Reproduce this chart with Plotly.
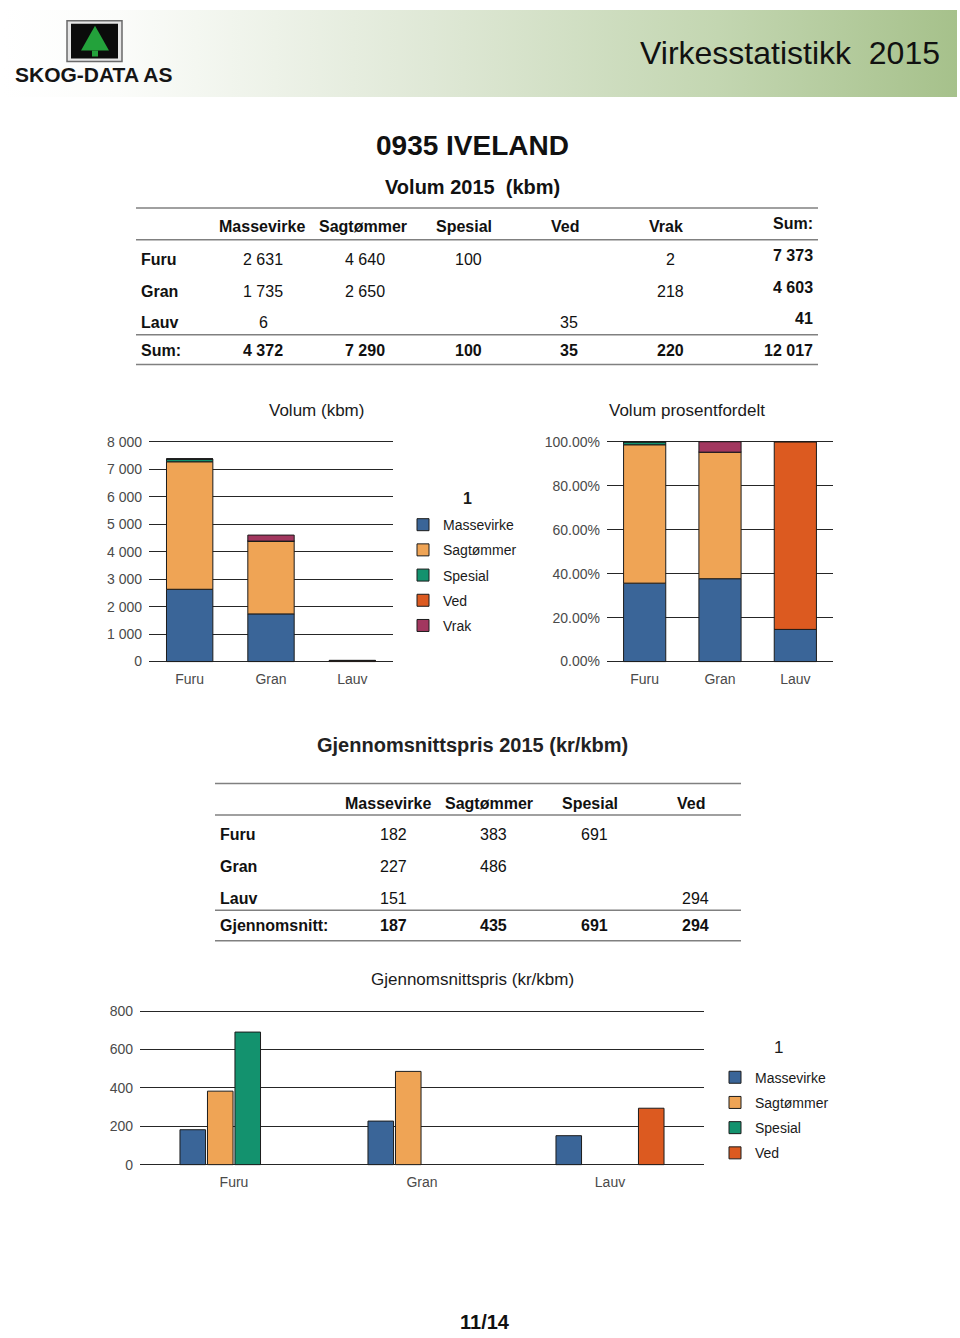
import plotly.graph_objects as go

W, H = 960, 1338
FONT = "Liberation Sans, Arial, sans-serif"

# ---------------- data ----------------
species = ["Furu", "Gran", "Lauv"]
assortments = ["Massevirke", "Sagtømmer", "Spesial", "Ved", "Vrak"]
colors = ["#3a6598", "#efa455", "#13926e", "#dc5a20", "#a2375f"]

vol_massevirke = [2631, 1735, 6]
vol_sagtommer = [4640, 2650, None]
vol_spesial = [100, None, None]
vol_ved = [None, None, 35]
vol_vrak = [2, 218, None]

price_assortments = ["Massevirke", "Sagtømmer", "Spesial", "Ved"]
price_massevirke = [182, 227, 151]
price_sagtommer = [383, 486, None]
price_spesial = [691, None, None]
price_ved = [None, None, 294]
price_average = [187, 435, 691, 294]

vol_ticks = [0, 1000, 2000, 3000, 4000, 5000, 6000, 7000, 8000]
vol_tick_labels = ["0", "1 000", "2 000", "3 000", "4 000", "5 000", "6 000", "7 000", "8 000"]
pct_ticks = [0, 20, 40, 60, 80, 100]
pct_tick_labels = ["0.00%", "20.00%", "40.00%", "60.00%", "80.00%", "100.00%"]
price_ticks = [0, 200, 400, 600, 800]
price_tick_labels = ["0", "200", "400", "600", "800"]

vol_series = [vol_massevirke, vol_sagtommer, vol_spesial, vol_ved, vol_vrak]
price_series = [price_massevirke, price_sagtommer, price_spesial, price_ved]


def n0(v):
    return 0 if v is None else v


def fmt(v):
    return "" if v is None else f"{v:,}".replace(",", " ")


def px(x):
    return x / W


def py(y):
    return 1 - y / H


row_sums = [sum(n0(s[i]) for s in vol_series) for i in range(3)]
col_sums = [sum(n0(v) for v in s) for s in vol_series]
grand_total = sum(row_sums)

fig = go.Figure()
annotations = []
shapes = []


def text(x, y, t, size=16, bold=False, anchor="center", color="#111111", valign="middle"):
    annotations.append(dict(
        x=px(x), y=py(y), xref="paper", yref="paper", text=f"<b>{t}</b>" if bold else t,
        showarrow=False, xanchor=anchor, yanchor=valign,
        font=dict(family=FONT, size=size, color=color)))


def hline(x0, x1, y, color="#808080", width=1.5):
    shapes.append(dict(type="line", xref="paper", yref="paper", x0=px(x0), x1=px(x1),
                       y0=py(y), y1=py(y), line=dict(color=color, width=width)))


# ---------------- header ----------------
fig.add_trace(go.Scatter(
    x=[0, 1, 1, 0, 0], y=[0, 0, 1, 1, 0], xaxis="x4", yaxis="y4", mode="lines",
    line=dict(width=0), fill="toself", showlegend=False, hoverinfo="skip",
    fillgradient=dict(type="horizontal",
                      colorscale=[[0, "#ffffff"], [0.12, "#fbfcfa"], [0.45, "#dfe8d6"],
                                  [0.75, "#c3d6b1"], [1, "#a6c18b"]])))

# logo
shapes.append(dict(type="rect", xref="paper", yref="paper", x0=px(67), x1=px(122), y0=py(55), y1=py(14),
                   fillcolor="#e6e6e6", line=dict(color="#6a6a6a", width=1.5)))
shapes.append(dict(type="rect", xref="paper", yref="paper", x0=px(71), x1=px(118), y0=py(52), y1=py(17),
                   fillcolor="#0b0b0b", line=dict(width=0)))
shapes.append(dict(type="path", xref="paper", yref="paper",
                   path=f"M {px(95)},{py(19)} L {px(109)},{py(44)} L {px(81)},{py(44)} Z",
                   fillcolor="#23a23b", line=dict(width=0)))
shapes.append(dict(type="rect", xref="paper", yref="paper", x0=px(92), x1=px(98), y0=py(50), y1=py(44),
                   fillcolor="#23a23b", line=dict(width=0)))
text(94, 68, "SKOG-DATA AS", size=21, bold=True, color="#151515")
text(942, 46, "Virkesstatistikk \u00a02015", size=32, anchor="right", color="#111111")

# ---------------- titles ----------------
text(472, 140, "0935 IVELAND", size=28, bold=True)
text(472, 182, "Volum 2015 \u00a0(kbm)", size=20, bold=True)

# ---------------- volume table ----------------
for yy in (203, 235, 331, 361):
    hline(136, 818, yy)
head_x = [262, 363, 464, 565, 666]
val_x = [263, 365, 468, 569, 670]
for hx, name in zip(head_x, assortments):
    text(hx, 222, name, bold=True)
text(815, 219, "Sum:", bold=True, anchor="right")
row_y = [255, 287, 319]
for i, sp in enumerate(species):
    text(139, row_y[i], sp, bold=True, anchor="left")
    for j, s in enumerate(vol_series):
        if s[i] is not None:
            text(val_x[j], row_y[i], fmt(s[i]))
    text(815, row_y[i] - 4, fmt(row_sums[i]), bold=True, anchor="right")
text(139, 347, "Sum:", bold=True, anchor="left")
for j, cs in enumerate(col_sums):
    text(val_x[j], 347, fmt(cs), bold=True)
text(815, 347, fmt(grand_total), bold=True, anchor="right")

# ---------------- chart 1: stacked volume ----------------
base = [0, 0, 0]
for name, s, c in zip(assortments, vol_series, colors):
    vals = [n0(v) for v in s]
    fig.add_trace(go.Bar(
        x=species, y=vals, base=list(base), name=name, xaxis="x", yaxis="y",
        width=0.57, offset=-0.285, marker=dict(color=c, line=dict(color="#1c1c1c", width=1)),
        legend="legend", legendgroup=name + "1"))
    base = [b + v for b, v in zip(base, vals)]

# ---------------- chart 2: percent ----------------
base = [0, 0, 0]
for name, s, c in zip(assortments, vol_series, colors):
    vals = [100 * n0(v) / row_sums[i] for i, v in enumerate(s)]
    fig.add_trace(go.Bar(
        x=species, y=vals, base=list(base), name=name, xaxis="x2", yaxis="y2",
        width=0.56, offset=-0.28, marker=dict(color=c, line=dict(color="#1c1c1c", width=1)),
        showlegend=False))
    base = [b + v for b, v in zip(base, vals)]

# ---------------- price table ----------------
text(472, 745, "Gjennomsnittspris 2015 (kr/kbm)", size=20, bold=True, color="#222222")
for yy in (784, 816, 912, 943):
    hline(215, 741, yy)
phead_x = [388, 489, 590, 691]
pval_x = [393, 493, 594, 695]
for hx, name in zip(phead_x, price_assortments):
    text(hx, 804, name, bold=True)
prow_y = [836, 868, 900]
for i, sp in enumerate(species):
    text(218, prow_y[i], sp, bold=True, anchor="left")
    for j, s in enumerate(price_series):
        if s[i] is not None:
            text(pval_x[j], prow_y[i], fmt(s[i]))
text(218, 928, "Gjennomsnitt:", bold=True, anchor="left")
for j, v in enumerate(price_average):
    text(pval_x[j], 928, fmt(v), bold=True)

# ---------------- chart 3: grouped price ----------------
for name, s, c in zip(price_assortments, price_series, colors):
    fig.add_trace(go.Bar(
        x=species, y=s, name=name, xaxis="x3", yaxis="y3", offsetgroup=name,
        marker=dict(color=c, line=dict(color="#1c1c1c", width=1)),
        legend="legend2", legendgroup=name + "3"))

# chart titles
text(316, 407, "Volum (kbm)", size=17, color="#1a1a1a")
text(687, 407, "Volum prosentfordelt", size=17, color="#1a1a1a")
text(472, 982, "Gjennomsnittspris (kr/kbm)", size=17, color="#1a1a1a")
# legend titles
text(467, 496, "1", size=16, bold=True, color="#1a1a1a")
text(778, 1051, "1", size=17, color="#1a1a1a")

# footer
text(485, 1328, "11/14", size=20, bold=True)

GRID = "#262626"
TICKC = "#4a4a4a"
PAD = 1.5  # px, keeps the end gridlines inside the plot area


def yax(y_bottom, y_top, vmax, tv, tt):
    per_px = vmax / (y_bottom - y_top)
    return dict(domain=[py(y_bottom + PAD), py(y_top - PAD)],
                range=[-PAD * per_px, vmax + PAD * per_px], tickvals=tv, ticktext=tt, showgrid=True,
                gridcolor=GRID, gridwidth=1, zeroline=True, zerolinecolor=GRID, zerolinewidth=1.2,
                showline=False, ticks="", ticklabelstandoff=6,
                tickfont=dict(family=FONT, size=14, color=TICKC), fixedrange=True)


def xax(domain, anchor):
    return dict(domain=domain, anchor=anchor, type="category", showgrid=False, zeroline=False,
                showline=False, ticks="", ticklabelstandoff=6,
                tickfont=dict(family=FONT, size=14, color=TICKC), fixedrange=True)


fig.update_layout(
    width=W, height=H, margin=dict(l=0, r=0, t=0, b=0),
    paper_bgcolor="white", plot_bgcolor="rgba(0,0,0,0)",
    font=dict(family=FONT, color="#111111"),
    barmode="group", bargap=0.415, bargroupgap=0.07,
    xaxis=xax([px(149), px(393)], "y"),
    yaxis=yax(661, 439, 8000, vol_ticks, vol_tick_labels),
    xaxis2=xax([px(607), px(833)], "y2"),
    yaxis2=dict(yax(661, 439, 100, pct_ticks, pct_tick_labels), anchor="x2"),
    xaxis3=xax([px(140), px(704)], "y3"),
    yaxis3=dict(yax(1169, 1014, 800, price_ticks, price_tick_labels), anchor="x3"),
    xaxis4=dict(domain=[px(3), px(957)], anchor="y4", range=[0, 1], visible=False, fixedrange=True),
    yaxis4=dict(domain=[py(91), py(3)], anchor="x4", range=[0, 1], visible=False, fixedrange=True),
    legend=dict(x=px(403), y=py(507), xanchor="left", yanchor="top", traceorder="grouped",
                tracegroupgap=4, bgcolor="rgba(0,0,0,0)",
                font=dict(family=FONT, size=14, color="#1a1a1a")),
    legend2=dict(x=px(715), y=py(1065), xanchor="left", yanchor="top", traceorder="grouped",
                 tracegroupgap=4, bgcolor="rgba(0,0,0,0)",
                 font=dict(family=FONT, size=14, color="#1a1a1a")),
    annotations=annotations, shapes=shapes,
)

fig.write_html("out.html", config={"displayModeBar": False},
               post_script="document.body.style.margin='0';")
